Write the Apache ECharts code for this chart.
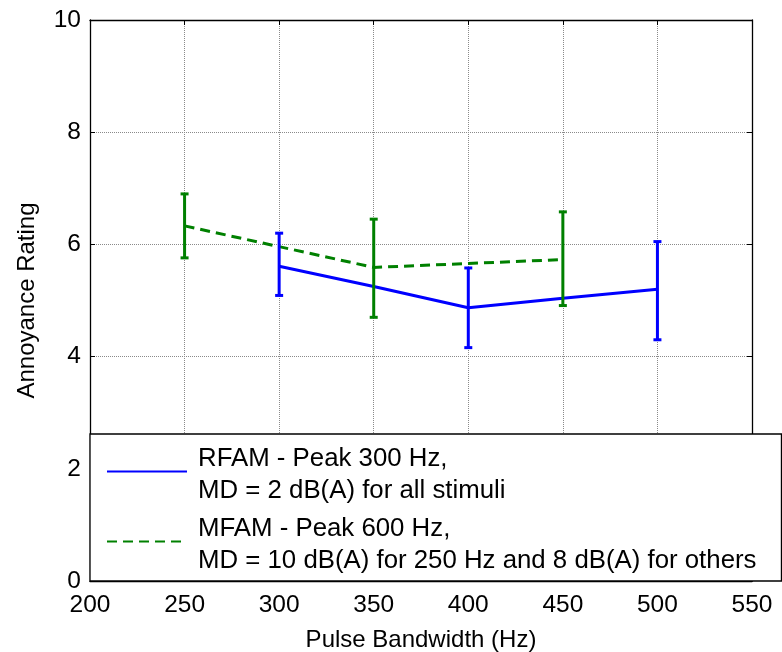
<!DOCTYPE html>
<html>
<head>
<meta charset="utf-8">
<script src="https://cdn.jsdelivr.net/npm/echarts@6/dist/echarts.min.js"></script>
<style>
html,body{margin:0;padding:0;background:#fff;}
#chart{width:782px;height:652px;}
</style>
</head>
<body>
<div id="chart"></div>
<script>
// ---- data ----
const xTicks = [200, 250, 300, 350, 400, 450, 500, 550];
const yTicks = [0, 2, 4, 6, 8, 10];

const rfamName = 'RFAM - Peak 300 Hz,\nMD = 2 dB(A) for all stimuli';
const rfamX = [300, 350, 400, 450, 500];
const rfamMean = [5.61, 5.25, 4.87, 5.04, 5.20];
const rfamBarX = [300, 400, 500];
const rfamLow = [5.09, 4.16, 4.30];
const rfamHigh = [6.20, 5.58, 6.05];

const mfamName = 'MFAM - Peak 600 Hz,\nMD = 10 dB(A) for 250 Hz and 8 dB(A) for others';
const mfamX = [250, 300, 350, 400, 450];
const mfamMean = [6.33, 5.96, 5.59, 5.66, 5.73];
const mfamBarX = [250, 350, 450];
const mfamLow = [5.76, 4.70, 4.91];
const mfamHigh = [6.90, 6.45, 6.58];

const xTitle = 'Pulse Bandwidth (Hz)';
const yTitle = 'Annoyance Rating';

// ---- build ----
const FONT = "'Liberation Sans', Arial, sans-serif";
const BLUE = '#0000FF';
const GREEN = '#008000';

function zip(xs, ys) { return xs.map((x, i) => [x, ys[i]]); }
function bars(xs, lo, hi) { return xs.map((x, i) => [x, lo[i], hi[i]]); }

function errRender(color) {
  return function (params, api) {
    const x = api.value(0);
    const p1 = api.coord([x, api.value(1)]);
    const p2 = api.coord([x, api.value(2)]);
    const hw = 4;
    const style = { stroke: color, lineWidth: 3 };
    return {
      type: 'group',
      children: [
        { type: 'line', shape: { x1: p1[0], y1: p1[1], x2: p2[0], y2: p2[1] }, style: style },
        { type: 'line', shape: { x1: p1[0] - hw, y1: p1[1], x2: p1[0] + hw, y2: p1[1] }, style: style },
        { type: 'line', shape: { x1: p2[0] - hw, y1: p2[1], x2: p2[0] + hw, y2: p2[1] }, style: style }
      ]
    };
  };
}

const axisCommon = {
  axisLine: { show: true, onZero: false, lineStyle: { color: '#000', width: 1.3 } },
  axisTick: { show: true, inside: true, length: 5, lineStyle: { color: '#000', width: 1 } },
  axisLabel: { color: '#000', fontFamily: FONT, fontSize: 24 }
};

const chart = echarts.init(document.getElementById('chart'), null, { renderer: 'canvas' });
chart.setOption({
  animation: false,
  backgroundColor: '#fff',
  grid: { left: 90, right: 30, top: 20, bottom: 71, containLabel: false, outerBoundsMode: 'none' },
  xAxis: [
    Object.assign({}, axisCommon, {
      type: 'value', min: xTicks[0], max: xTicks[xTicks.length - 1], interval: 50,
      position: 'bottom',
      name: xTitle, nameLocation: 'middle', nameGap: 47,
      nameTextStyle: { color: '#000', fontFamily: FONT, fontSize: 24 },
      axisLabel: { color: '#000', fontFamily: FONT, fontSize: 24.5, margin: 12 },
      splitLine: { show: true, lineStyle: { color: '#8a8a8a', width: 1, type: [1, 1] } }
    }),
    Object.assign({}, axisCommon, {
      type: 'value', min: xTicks[0], max: xTicks[xTicks.length - 1], interval: 50,
      position: 'top',
      axisLabel: { show: false },
      splitLine: { show: false }
    })
  ],
  yAxis: [
    Object.assign({}, axisCommon, {
      type: 'value', min: yTicks[0], max: yTicks[yTicks.length - 1], interval: 2,
      position: 'left',
      name: yTitle, nameLocation: 'middle', nameGap: 51, nameRotate: 90,
      nameTextStyle: { color: '#000', fontFamily: FONT, fontSize: 24 },
      axisLabel: { color: '#000', fontFamily: FONT, fontSize: 24.5, margin: 9 },
      splitLine: { show: true, lineStyle: { color: '#8a8a8a', width: 1, type: [1, 1] } }
    }),
    Object.assign({}, axisCommon, {
      type: 'value', min: yTicks[0], max: yTicks[yTicks.length - 1], interval: 2,
      position: 'right',
      axisLabel: { show: false },
      splitLine: { show: false }
    })
  ],
  legend: {
    show: true,
    orient: 'vertical',
    left: 90,
    top: 434,
    padding: [2, 25, 4, 16],
    itemGap: -1,
    itemWidth: 80,
    itemHeight: 14,
    backgroundColor: '#fff',
    borderColor: '#000',
    borderWidth: 1.3,
    borderRadius: 0,
    selectedMode: false,
    itemStyle: { opacity: 0, borderWidth: 0 },
    formatter: function (name) { return '{s| }\n' + name; },
    textStyle: {
      color: '#000', fontFamily: FONT, fontSize: 25.8, lineHeight: 32, padding: [0, 0, 0, 6],
      rich: { s: { fontSize: 1, lineHeight: 7 } }
    },
    data: [rfamName, mfamName]
  },
  series: [
    {
      name: rfamName, type: 'line', data: zip(rfamX, rfamMean),
      symbol: 'none', z: 2,
      lineStyle: { color: BLUE, width: 3 }, itemStyle: { color: BLUE }
    },
    {
      name: mfamName, type: 'line', data: zip(mfamX, mfamMean),
      symbol: 'none', z: 3,
      lineStyle: { color: GREEN, width: 3, type: [10, 6] }, itemStyle: { color: GREEN }
    },
    {
      name: 'rfamErr', type: 'custom', data: bars(rfamBarX, rfamLow, rfamHigh),
      renderItem: errRender(BLUE), z: 4, silent: true
    },
    {
      name: 'mfamErr', type: 'custom', data: bars(mfamBarX, mfamLow, mfamHigh),
      renderItem: errRender(GREEN), z: 5, silent: true
    }
  ]
});
</script>
</body>
</html>
